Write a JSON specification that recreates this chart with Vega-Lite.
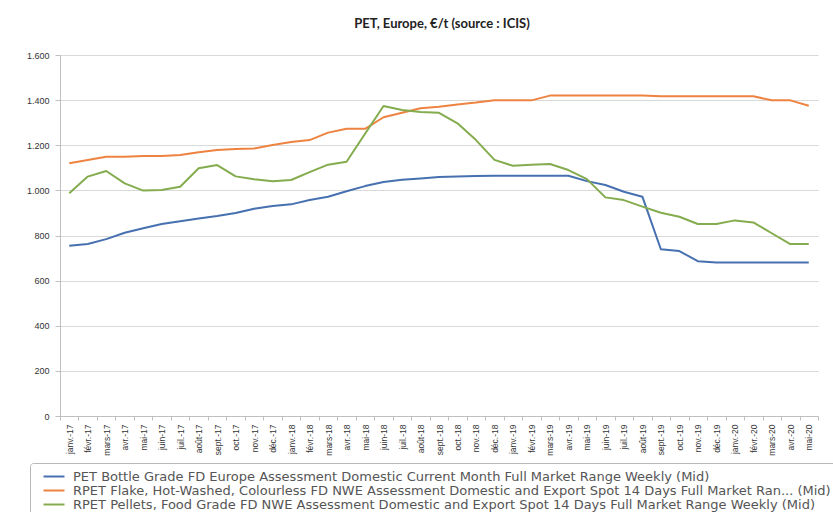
{
  "$schema": "https://vega.github.io/schema/vega-lite/v6.json",
  "autosize": "none",
  "width": 758,
  "height": 361,
  "padding": {"left": 60, "top": 55, "right": 15, "bottom": 96},
  "background": "white",
  "title": {"text": "PET, Europe, €/t (source : ICIS)", "font": "Lato", "fontSize": 13, "fontWeight": "bold", "color": "#222", "anchor": "middle", "dx": 3, "offset": 20},
  "datasets": {
    "series": [
      {"k": 1, "name": "PET Bottle Grade FD Europe Assessment Domestic Current Month Full Market Range Weekly (Mid)"},
      {"k": 2, "name": "RPET Flake, Hot-Washed, Colourless FD NWE Assessment Domestic and Export Spot 14 Days Full Market Ran... (Mid)"},
      {"k": 3, "name": "RPET Pellets, Food Grade FD NWE Assessment Domestic and Export Spot 14 Days Full Market Range Weekly (Mid)"}
    ]
  },
  "data": {"values": [
    {"m":"janv.-17","k":1,"v":755},{"m":"févr.-17","k":1,"v":762},{"m":"mars-17","k":1,"v":784},{"m":"avr.-17","k":1,"v":812},{"m":"mai-17","k":1,"v":832},{"m":"juin-17","k":1,"v":851},{"m":"juil.-17","k":1,"v":863},{"m":"août-17","k":1,"v":875},{"m":"sept.-17","k":1,"v":886},{"m":"oct.-17","k":1,"v":900},{"m":"nov.-17","k":1,"v":919},{"m":"déc.-17","k":1,"v":931},
    {"m":"janv.-18","k":1,"v":938},{"m":"févr.-18","k":1,"v":957},{"m":"mars-18","k":1,"v":972},{"m":"avr.-18","k":1,"v":996},{"m":"mai-18","k":1,"v":1019},{"m":"juin-18","k":1,"v":1037},{"m":"juil.-18","k":1,"v":1047},{"m":"août-18","k":1,"v":1053},{"m":"sept.-18","k":1,"v":1059},{"m":"oct.-18","k":1,"v":1062},{"m":"nov.-18","k":1,"v":1064},{"m":"déc.-18","k":1,"v":1065},
    {"m":"janv.-19","k":1,"v":1065},{"m":"févr.-19","k":1,"v":1065},{"m":"mars-19","k":1,"v":1065},{"m":"avr.-19","k":1,"v":1065},{"m":"mai-19","k":1,"v":1041},{"m":"juin-19","k":1,"v":1024},{"m":"juil.-19","k":1,"v":994},{"m":"août-19","k":1,"v":972},{"m":"sept.-19","k":1,"v":739},{"m":"oct.-19","k":1,"v":731},{"m":"nov.-19","k":1,"v":686},{"m":"déc.-19","k":1,"v":680},
    {"m":"janv.-20","k":1,"v":680},{"m":"févr.-20","k":1,"v":680},{"m":"mars-20","k":1,"v":680},{"m":"avr.-20","k":1,"v":680},{"m":"mai-20","k":1,"v":680},

    {"m":"janv.-17","k":2,"v":1120},{"m":"févr.-17","k":2,"v":1135},{"m":"mars-17","k":2,"v":1149},{"m":"avr.-17","k":2,"v":1149},{"m":"mai-17","k":2,"v":1152},{"m":"juin-17","k":2,"v":1152},{"m":"juil.-17","k":2,"v":1157},{"m":"août-17","k":2,"v":1169},{"m":"sept.-17","k":2,"v":1179},{"m":"oct.-17","k":2,"v":1183},{"m":"nov.-17","k":2,"v":1186},{"m":"déc.-17","k":2,"v":1201},
    {"m":"janv.-18","k":2,"v":1214},{"m":"févr.-18","k":2,"v":1223},{"m":"mars-18","k":2,"v":1256},{"m":"avr.-18","k":2,"v":1273},{"m":"mai-18","k":2,"v":1273},{"m":"juin-18","k":2,"v":1324},{"m":"juil.-18","k":2,"v":1344},{"m":"août-18","k":2,"v":1364},{"m":"sept.-18","k":2,"v":1371},{"m":"oct.-18","k":2,"v":1381},{"m":"nov.-18","k":2,"v":1389},{"m":"déc.-18","k":2,"v":1399},
    {"m":"janv.-19","k":2,"v":1399},{"m":"févr.-19","k":2,"v":1399},{"m":"mars-19","k":2,"v":1420},{"m":"avr.-19","k":2,"v":1420},{"m":"mai-19","k":2,"v":1420},{"m":"juin-19","k":2,"v":1420},{"m":"juil.-19","k":2,"v":1420},{"m":"août-19","k":2,"v":1420},{"m":"sept.-19","k":2,"v":1417},{"m":"oct.-19","k":2,"v":1417},{"m":"nov.-19","k":2,"v":1417},{"m":"déc.-19","k":2,"v":1417},
    {"m":"janv.-20","k":2,"v":1417},{"m":"févr.-20","k":2,"v":1417},{"m":"mars-20","k":2,"v":1399},{"m":"avr.-20","k":2,"v":1399},{"m":"mai-20","k":2,"v":1375},

    {"m":"janv.-17","k":3,"v":987},{"m":"févr.-17","k":3,"v":1061},{"m":"mars-17","k":3,"v":1086},{"m":"avr.-17","k":3,"v":1031},{"m":"mai-17","k":3,"v":999},{"m":"juin-17","k":3,"v":1002},{"m":"juil.-17","k":3,"v":1016},{"m":"août-17","k":3,"v":1098},{"m":"sept.-17","k":3,"v":1112},{"m":"oct.-17","k":3,"v":1062},{"m":"nov.-17","k":3,"v":1049},{"m":"déc.-17","k":3,"v":1040},
    {"m":"janv.-18","k":3,"v":1046},{"m":"févr.-18","k":3,"v":1081},{"m":"mars-18","k":3,"v":1114},{"m":"avr.-18","k":3,"v":1127},{"m":"mai-18","k":3,"v":1251},{"m":"juin-18","k":3,"v":1374},{"m":"juil.-18","k":3,"v":1356},{"m":"août-18","k":3,"v":1347},{"m":"sept.-18","k":3,"v":1344},{"m":"oct.-18","k":3,"v":1297},{"m":"nov.-18","k":3,"v":1223},{"m":"déc.-18","k":3,"v":1135},
    {"m":"janv.-19","k":3,"v":1109},{"m":"févr.-19","k":3,"v":1114},{"m":"mars-19","k":3,"v":1117},{"m":"avr.-19","k":3,"v":1090},{"m":"mai-19","k":3,"v":1050},{"m":"juin-19","k":3,"v":969},{"m":"juil.-19","k":3,"v":957},{"m":"août-19","k":3,"v":928},{"m":"sept.-19","k":3,"v":901},{"m":"oct.-19","k":3,"v":883},{"m":"nov.-19","k":3,"v":851},{"m":"déc.-19","k":3,"v":851},
    {"m":"janv.-20","k":3,"v":867},{"m":"févr.-20","k":3,"v":858},{"m":"mars-20","k":3,"v":810},{"m":"avr.-20","k":3,"v":762},{"m":"mai-20","k":3,"v":762}
  ]},
  "transform": [
    {"lookup": "k", "from": {"data": {"name": "series"}, "key": "k", "fields": ["name"]}}
  ],
  "mark": {"type": "line", "strokeWidth": 2, "strokeJoin": "round"},
  "encoding": {
    "x": {
      "field": "m", "type": "ordinal", "sort": null,
      "scale": {"type": "band", "paddingInner": 0, "paddingOuter": 0},
      "axis": {
        "title": null, "labelAngle": -90, "labelAlign": "right", "labelBaseline": "middle",
        "labelFont": "Liberation Sans", "labelFontSize": 8.5, "labelColor": "#333", "labelPadding": 4,
        "tickBand": "extent", "tickSize": 4, "tickColor": "#bfbfbf", "domainColor": "#bfbfbf", "grid": false
      }
    },
    "y": {
      "field": "v", "type": "quantitative",
      "scale": {"domain": [0, 1600], "nice": false},
      "axis": {
        "title": null, "values": [0, 200, 400, 600, 800, 1000, 1200, 1400, 1600],
        "labelExpr": "replace(format(datum.value, ',d'), ',', '.')",
        "labelFont": "Liberation Sans", "labelFontSize": 9, "labelColor": "#333", "labelPadding": 6,
        "tickSize": 5, "tickColor": "#bfbfbf", "domainColor": "#bfbfbf",
        "grid": true, "gridColor": "#d9d9d9", "gridWidth": 1
      }
    },
    "color": {
      "field": "name", "type": "nominal",
      "scale": {
        "domain": [
          "PET Bottle Grade FD Europe Assessment Domestic Current Month Full Market Range Weekly (Mid)",
          "RPET Flake, Hot-Washed, Colourless FD NWE Assessment Domestic and Export Spot 14 Days Full Market Ran... (Mid)",
          "RPET Pellets, Food Grade FD NWE Assessment Domestic and Export Spot 14 Days Full Market Range Weekly (Mid)"
        ],
        "range": ["#4670B0", "#EE8341", "#84AC4E"]
      },
      "legend": {
        "title": null, "orient": "none", "legendX": -30, "legendY": 408, "direction": "vertical",
        "strokeColor": "#b8b8b8", "cornerRadius": 3, "padding": 7, "fillColor": "white",
        "symbolType": "M0,0H6", "symbolSize": 49, "symbolStrokeWidth": 2,
        "labelFont": "DejaVu Sans", "labelFontSize": 13, "labelColor": "#555", "labelLimit": 900,
        "labelOffset": 23, "rowPadding": -1
      }
    }
  },
  "config": {"view": {"stroke": null}}
}
